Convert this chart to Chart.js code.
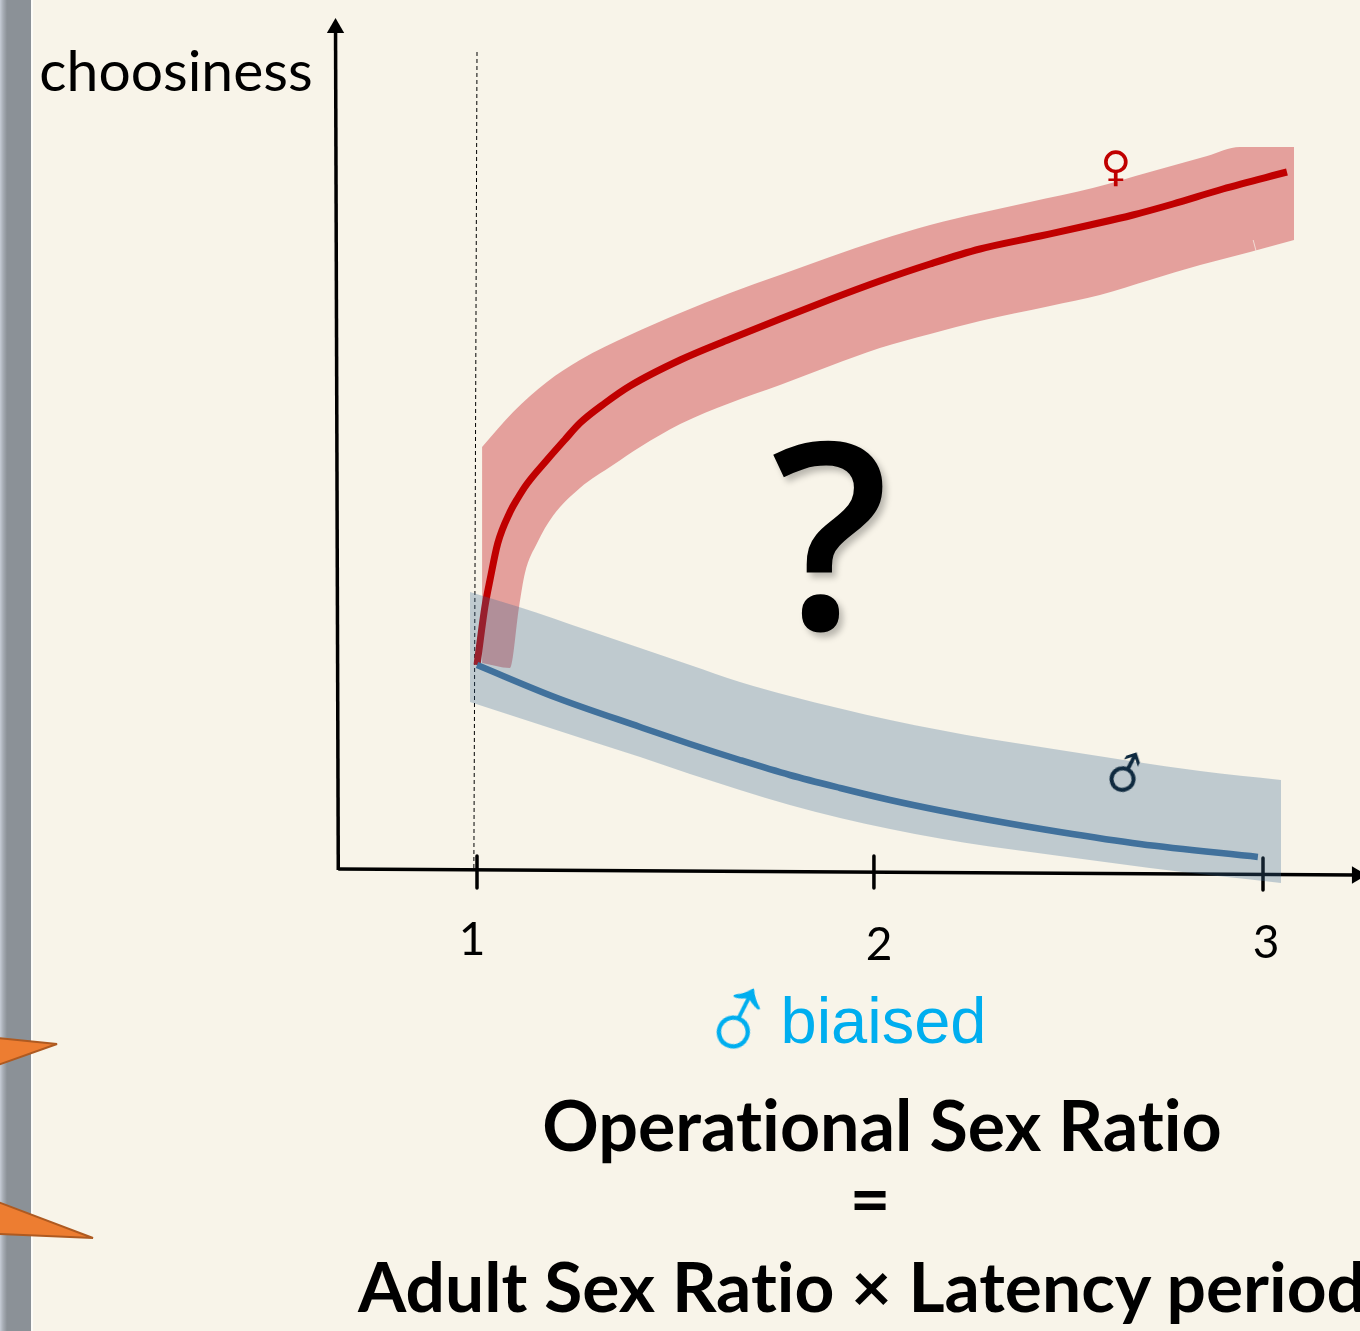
<!DOCTYPE html>
<html>
<head>
<meta charset="utf-8">
<script src="https://cdn.jsdelivr.net/npm/chart.js@4"></script>
<style>
  html, body { margin: 0; padding: 0; background: #f8f4e9; }
  #page { position: relative; width: 1360px; height: 1331px; overflow: hidden; background: #f8f4e9; }
  #chart { position: absolute; left: 0; top: 0; }
  #bar { position: absolute; left: 0; top: 0; width: 31px; height: 1331px; border-right: 2px solid #fdfcf8;
         background: linear-gradient(to right, #c6ccd6 0, #a8aeb6 3px, #8b9197 7px, #8b9197 100%); }
  #wedges { position: absolute; left: 0; top: 0; }
  .t { position: absolute; white-space: nowrap; color: #000; font-family: Lato, sans-serif; line-height: 1; transform: translate(-50%, -50%); font-variant-ligatures: none; }
</style>
</head>
<body>
<div id="page">
  <div id="bar"></div>
  <svg id="wedges" width="120" height="1331">
    <polygon points="-2,1038 57,1044 -2,1065" fill="#ed7d31" stroke="#ae5a21" stroke-width="2"/>
    <polygon points="-2,1202 93,1238 -2,1234" fill="#ed7d31" stroke="#ae5a21" stroke-width="2"/>
  </svg>
  <canvas id="chart" width="1360" height="1331"></canvas>
  <div class="t" style="left:176px;top:69px;font-size:57px">choosiness</div>
  <div class="t" style="left:472px;top:938px;font-size:46px">1</div>
  <div class="t" style="left:879px;top:943px;font-size:46px">2</div>
  <div class="t" style="left:1266px;top:941px;font-size:46px">3</div>
  <div class="t" style="left:1116px;top:167px;font-size:42px;color:#c00000;font-family:'DejaVu Sans';font-weight:bold">♀</div>
  <div class="t" style="left:1125px;top:774px;font-size:46px;color:#0f2a3f;font-family:'DejaVu Sans';transform:translate(-50%,-50%) rotate(-18deg)">♂</div>
  <div class="t" style="left:830px;top:528px;font-size:260px;font-weight:600;font-family:'Open Sans';text-shadow:4px 5px 6px rgba(0,0,0,0.25)">?</div>
  <div class="t" style="left:738px;top:1020px;font-size:118px;color:#00aeef;font-family:'DejaVu Sans ExtraLight','DejaVu Sans';font-weight:200;transform:translate(-50%,-50%) rotate(-18deg)">♂</div>
  <div class="t" style="left:883.5px;top:1020px;font-size:65px;color:#00aeef;font-family:'Liberation Sans'">biaised</div>
  <div class="t" style="left:882px;top:1124px;font-size:70px;font-weight:bold">Operational Sex Ratio</div>
  <div class="t" style="left:870px;top:1197px;font-size:70px;font-weight:bold">=</div>
  <div class="t" style="left:358px;top:1286px;font-size:69.5px;font-weight:bold;transform:translate(0,-50%)">Adult Sex Ratio × Latency period</div>
</div>
<script>
// values
const femaleX = [1.000, 1.020, 1.033, 1.053, 1.084, 1.104, 1.127, 1.178, 1.224, 1.262, 1.326, 1.389, 1.517, 1.644, 1.771, 1.898, 2.025, 2.153, 2.280, 2.433, 2.560, 2.669, 2.771, 2.898, 3.061];
const femaleY = [2.05, 2.63, 2.90, 3.27, 3.58, 3.72, 3.86, 4.10, 4.305, 4.47, 4.67, 4.84, 5.10, 5.31, 5.51, 5.705, 5.89, 6.06, 6.21, 6.34, 6.45, 6.55, 6.66, 6.81, 6.98];
const femaleTopX = [1.013, 1.092, 1.178, 1.262, 1.389, 1.517, 1.644, 1.771, 1.898, 2.025, 2.153, 2.280, 2.407, 2.567, 2.712, 2.858, 2.941, 3.079];
const femaleTopY = [4.23, 4.58, 4.88, 5.10, 5.35, 5.57, 5.77, 5.95, 6.13, 6.30, 6.45, 6.57, 6.68, 6.82, 6.98, 7.14, 7.23, 7.23];
const femaleLowX = [1.013, 1.084, 1.107, 1.122, 1.153, 1.193, 1.262, 1.346, 1.415, 1.517, 1.644, 1.771, 1.898, 2.025, 2.153, 2.280, 2.458, 2.585, 2.712, 2.840, 2.967, 3.079];
const femaleLowY = [2.07, 2.02, 2.63, 2.97, 3.27, 3.54, 3.82, 4.05, 4.23, 4.46, 4.67, 4.85, 5.04, 5.22, 5.36, 5.49, 5.64, 5.75, 5.90, 6.05, 6.18, 6.30];
// thin pale nick in the band's lower edge near ratio 3
const nickX = [2.975, 2.983];
const nickY = [6.30, 6.18];

const maleX = [1.000, 1.204, 1.415, 1.542, 1.669, 1.796, 1.924, 2.051, 2.178, 2.305, 2.483, 2.687, 2.987];
const maleY = [2.05, 1.72, 1.43, 1.26, 1.10, 0.95, 0.82, 0.70, 0.595, 0.50, 0.38, 0.26, 0.13];
const maleTopX = [0.982, 1.107, 1.280, 1.415, 1.542, 1.669, 1.796, 1.924, 2.051, 2.178, 2.305, 2.483, 2.662, 2.840, 3.046];
const maleTopY = [2.78, 2.63, 2.40, 2.22, 2.05, 1.88, 1.74, 1.615, 1.50, 1.40, 1.31, 1.20, 1.09, 0.99, 0.90];
const maleLowX = [0.982, 1.280, 1.415, 1.542, 1.669, 1.796, 1.924, 2.051, 2.178, 2.305, 2.483, 2.712, 3.046];
const maleLowY = [1.68, 1.30, 1.13, 0.96, 0.80, 0.65, 0.52, 0.41, 0.315, 0.235, 0.14, 0.02, -0.13];

// axes, ticks and the dashed line at ratio 1
const xAxisX = [0.647, 3.239];
const xAxisY = [0.01, -0.05];
const yAxisX = [0.647, 0.640];
const yAxisY = [0.00, 8.42];
const dashX = [1.000, 0.992];
const dashY = [8.18, 0.00];
const tickX = [1.000, 1.000, null, 2.010, 2.010, null, 3.000, 3.000];
const tickY = [0.14, -0.18, null, 0.14, -0.18, null, 0.12, -0.20];

const pts = (xs, ys) => xs.map((x, i) => ({ x: x, y: ys[i] }));

const plain = { pointRadius: 0, fill: false, borderCapStyle: "butt", borderJoinStyle: "round" };
const edge = { ...plain, borderWidth: 0, borderColor: "transparent", cubicInterpolationMode: "monotone" };

new Chart(document.getElementById("chart"), {
  type: "line",
  data: {
    datasets: [
      { label: "male", data: pts(maleX, maleY), borderColor: "#41719c", borderWidth: 6.5, cubicInterpolationMode: "monotone", order: 1, ...plain },
      { label: "male band", data: pts(maleTopX, maleTopY), ...edge, fill: "+1", backgroundColor: "rgba(60,105,150,0.3)", order: 2 },
      { label: "male band low", data: pts(maleLowX, maleLowY), ...edge, order: 2 },
      { label: "female", data: pts(femaleX, femaleY), borderColor: "#c00000", borderWidth: 7, cubicInterpolationMode: "monotone", order: 3, ...plain },
      { label: "nick", data: pts(nickX, nickY), borderColor: "rgba(248,244,233,0.7)", borderWidth: 1, order: 3, ...plain },
      { label: "female band", data: pts(femaleTopX, femaleTopY), ...edge, fill: "+1", backgroundColor: "rgba(208,76,79,0.5)", order: 4 },
      { label: "female band low", data: pts(femaleLowX, femaleLowY), ...edge, order: 4 },
      { label: "x axis", data: pts(xAxisX, xAxisY), borderColor: "#000", borderWidth: 3.5, order: 5, ...plain, pointRadius: [0, 10], pointStyle: "triangle", pointRotation: 90, pointBackgroundColor: "#000", pointBorderWidth: 0 },
      { label: "y axis", data: pts(yAxisX, yAxisY), borderColor: "#000", borderWidth: 3.5, order: 5, ...plain, pointRadius: [0, 10], pointStyle: "triangle", pointBackgroundColor: "#000", pointBorderWidth: 0 },
      { label: "ticks", data: pts(tickX, tickY), borderColor: "#000", borderWidth: 3.5, order: 5, ...plain },
      { label: "ratio 1", data: pts(dashX, dashY), borderColor: "#000", borderWidth: 1, borderDash: [4, 3], order: 5, ...plain }
    ]
  },
  options: {
    responsive: false,
    animation: false,
    layout: { padding: 0, autoPadding: false },
    plugins: { legend: { display: false }, tooltip: { enabled: false }, title: { display: false } },
    scales: {
      // 393 px per ratio unit, 100 px per choosiness unit
      x: { type: "linear", display: false, min: 1 - 477 / 393, max: 1 + 883 / 393 },
      y: { type: "linear", display: false, min: -4.61, max: 8.70 }
    }
  }
});
</script>
</body>
</html>
